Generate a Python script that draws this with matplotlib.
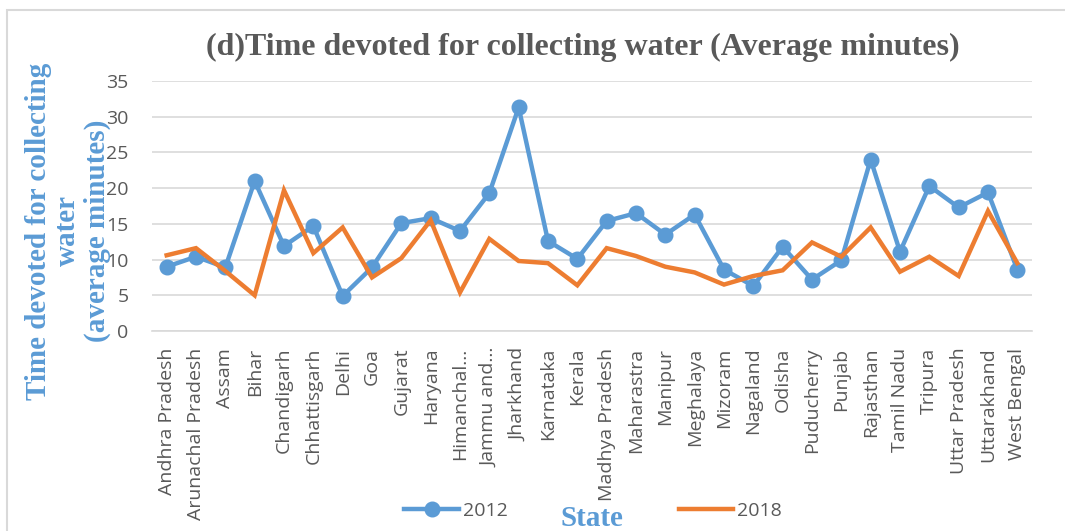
import matplotlib
matplotlib.use("Agg")
import matplotlib.pyplot as plt
from matplotlib.lines import Line2D
from matplotlib.patches import Rectangle

states = ["Andhra Pradesh", "Arunachal Pradesh", "Assam", "Bihar", "Chandigarh",
          "Chhattisgarh", "Delhi", "Goa", "Gujarat", "Haryana", "Himanchal...",
          "Jammu and...", "Jharkhand", "Karnataka", "Kerala", "Madhya Pradesh",
          "Maharastra", "Manipur", "Meghalaya", "Mizoram", "Nagaland", "Odisha",
          "Puducherry", "Punjab", "Rajasthan", "Tamil Nadu", "Tripura",
          "Uttar Pradesh", "Uttarakhand", "West Bengal"]

minutes_2012 = [9.0, 10.4, 8.9, 21.0, 11.9, 14.7, 4.9, 8.9, 15.1, 15.8, 14.0,
                19.3, 31.3, 12.6, 10.1, 15.4, 16.5, 13.5, 16.3, 8.6, 6.3, 11.8,
                7.2, 9.9, 24.0, 11.1, 20.3, 17.3, 19.4, 8.6]

minutes_2018 = [10.6, 11.6, 8.4, 5.0, 19.7, 10.9, 14.5, 7.5, 10.2, 15.5, 5.4,
                12.9, 9.8, 9.5, 6.4, 11.6, 10.5, 9.0, 8.2, 6.5, 7.7, 8.5,
                12.4, 10.4, 14.5, 8.3, 10.4, 7.7, 16.8, 9.5]

y_ticks = [0, 5, 10, 15, 20, 25, 30, 35]

BLUE = "#5B9BD5"
ORANGE = "#ED7D31"
TEXT = "#595959"
GRID = "#D9D9D9"
SANS = "Open Sans"
SERIF = "Liberation Serif"

fig = plt.figure(figsize=(10.65, 5.31), dpi=100)
ax = fig.add_axes([152 / 1065, 1 - 331 / 531, 880 / 1065, 250 / 531])

x = list(range(len(states)))
ax.plot(x, minutes_2012, color=BLUE, lw=3.2, marker="o", markersize=10.5,
        zorder=3, solid_joinstyle="round")
ax.plot(x, minutes_2018, color=ORANGE, lw=3.2, zorder=3, solid_joinstyle="miter")

ax.set_xlim(-0.5, len(states) - 0.5)
ax.set_ylim(0, 35)
ax.set_yticks(y_ticks)
ax.set_yticklabels([str(v) for v in y_ticks], fontsize=14, family=SANS, color=TEXT)
ax.set_xticks(x)
ax.set_xticklabels(states, rotation=90, fontsize=14, family=SANS, color=TEXT,
                   va="top", ha="center")
ax.tick_params(axis="both", length=0)
ax.tick_params(axis="y", pad=17)
ax.tick_params(axis="x", pad=12)

ax.grid(axis="y", color=GRID, lw=1.2)
ax.set_axisbelow(True)
for side in ["top", "right", "left"]:
    ax.spines[side].set_visible(False)
ax.spines["bottom"].set_color(GRID)
ax.spines["bottom"].set_linewidth(1.2)

# outer chart border
fig.patches.append(Rectangle((7 / 1065, -0.02), 1.0, 1 - 10 / 531 + 0.02,
                             transform=fig.transFigure, fill=False,
                             edgecolor="#D9D9D9", lw=1.5, zorder=0))

fig.text(583 / 1065, 1 - 47 / 531,
         "(d)Time devoted for collecting water (Average minutes)",
         ha="center", va="center", fontsize=23, fontweight="bold",
         family=SERIF, color=TEXT)

fig.text(68 / 1065, 1 - 231 / 531,
         "Time devoted for collecting\nwater\n(average minutes)",
         ha="center", va="center", rotation=90, fontsize=21, fontweight="bold",
         family=SERIF, color=BLUE, linespacing=1.12, multialignment="center")

fig.text(592 / 1065, 1 - 519 / 531, "State", ha="center", va="center",
         fontsize=21, fontweight="bold", family=SERIF, color=BLUE)

handles = [Line2D([], [], color=BLUE, lw=3.2, marker="o", markersize=10.5),
           Line2D([], [], color=ORANGE, lw=3.2)]
fig.legend(handles, ["2012", "2018"], loc="center", ncol=2,
           bbox_to_anchor=(593 / 1065, 1 - 511 / 531), frameon=False,
           prop={"family": SANS, "size": 14}, labelcolor=TEXT,
           handlelength=2.8, handletextpad=0.2, columnspacing=8.8,
           borderpad=0, borderaxespad=0)

fig.savefig("out.png", dpi=100, facecolor="white")
